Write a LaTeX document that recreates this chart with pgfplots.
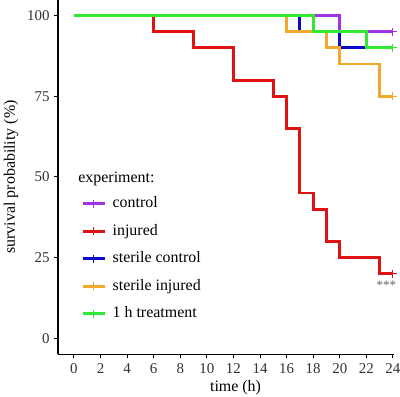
\documentclass[border=0pt]{standalone}
\usepackage{pgfplots}
\pgfplotsset{compat=1.18}
\usepackage{fontspec}
\setmainfont{Liberation Serif}
\definecolor{cControl}{RGB}{160,50,225}
\definecolor{cInjured}{RGB}{222,18,18}
\definecolor{cSterC}{RGB}{10,10,200}
\definecolor{cSterI}{RGB}{240,168,45}
\definecolor{cTreat}{RGB}{50,232,50}
\begin{document}
\begin{tikzpicture}
\begin{axis}[
  at={(0,0)}, anchor=south west,
  scale only axis, width=335.6bp, height=354.9bp,
  xmin=-1.2, xmax=24.05, ymin=-5, ymax=105,
  axis lines=left, axis line style={-, line width=1.1bp, black},
  tick align=outside, major tick length=4bp,
  tick style={line width=1bp, black},
  xtick={0,2,...,24}, ytick={0,25,50,75,100},
  /pgf/number format/assume math mode=true,
  tick label style={font=\fontsize{15}{16}\selectfont, text=black!80},
  xticklabel style={yshift=-2bp},
  yticklabel style={xshift=-1bp},
  every axis x label/.style={at={(axis description cs:0.529,-0.0947)}, anchor=center, font=\fontsize{16}{18}\selectfont},
  every axis y label/.style={at={(axis description cs:-0.140,0.5)}, rotate=90, anchor=center, font=\fontsize{16}{18}\selectfont},
  xlabel={time (h)}, ylabel={survival probability (\%)},
  clip=false,
  const plot,
  legend cell align=left,
  legend style={at={(axis cs:0.527,44.0)}, anchor=north west, draw=none, fill=none,
    inner sep=0pt, font=\fontsize{16}{18}\selectfont, row sep=13bp, column sep=6.5bp,
    nodes={inner sep=0pt, text height=11bp, text depth=3.5bp}},
  legend image code/.code={
    \draw[#1, line width=3bp, mark=none] (0bp,0bp) -- (22bp,0bp);
    \draw[#1, line width=1bp, mark=none] (11bp,-4bp) -- (11bp,4bp);
  },
]
\addplot[cControl, line width=2.8bp] coordinates {(0,100) (20,95) (24,95)};
\addlegendentry{control}
\addplot[cInjured, line width=2.8bp] coordinates {(0,100) (6,95) (9,90) (12,80) (15,75) (16,65) (17,45) (18,40) (19,30) (20,25) (23,20) (24,20)};
\addlegendentry{injured}
\addplot[cSterC, line width=2.8bp] coordinates {(0,100) (17,95) (20,90) (24,90)};
\addlegendentry{sterile control}
\addplot[cSterI, line width=2.8bp] coordinates {(0,100) (16,95) (19,90) (20,85) (23,75) (24,75)};
\addlegendentry{sterile injured}
\addplot[cTreat, line width=2.8bp] coordinates {(0,100) (18,95) (22,90) (24,90)};
\addlegendentry{1 h treatment}
\addplot[forget plot, only marks, mark=+, mark size=4bp, line width=1bp, cControl] coordinates {(24,95)};
\addplot[forget plot, only marks, mark=+, mark size=4bp, line width=1bp, cInjured] coordinates {(24,20)};
\addplot[forget plot, only marks, mark=+, mark size=4bp, line width=1bp, cSterC] coordinates {(24,90)};
\addplot[forget plot, only marks, mark=+, mark size=4bp, line width=1bp, cSterI] coordinates {(24,75)};
\addplot[forget plot, only marks, mark=+, mark size=4bp, line width=1bp, cTreat] coordinates {(24,90)};
\node[anchor=base west, inner sep=0pt, font=\fontsize{16}{18}\selectfont] at (axis cs:0.32,48.4) {experiment:};
\node[anchor=base, inner sep=0pt, text=black!60, font=\fontsize{13}{14}\selectfont] at (axis cs:23.5,15) {***};
\end{axis}
\pgfresetboundingbox
\path[use as bounding box] (-58bp,-42.6bp) rectangle (342bp,354.4bp);
\end{tikzpicture}
\end{document}
